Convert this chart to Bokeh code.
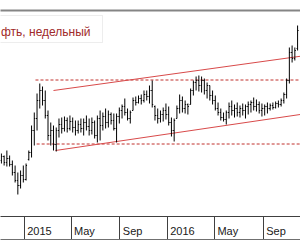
import datetime as dt
import pandas as pd
from bokeh.plotting import figure
from bokeh.models import (Range1d, FixedTicker, LinearAxis, BasicTickFormatter, BoxAnnotation,
                          Label, ColumnDataSource)
from bokeh.embed import file_html
from bokeh.resources import INLINE

# ---------------- data (weekly OHLC) ----------------
first_week = "2014-11-03"
high = [2470, 2450, 2500, 2450, 2400, 2350, 2280, 2300, 2350, 2370,
        2500, 2750, 2880, 3070, 3170, 3140, 3100, 2900, 2780, 2750,
        2730, 2820, 2830, 2840, 2830, 2850, 2830, 2800, 2800, 2820,
        2820, 2850, 2820, 2830, 2800, 2850, 2900, 2880, 2920, 2900,
        2880, 2870, 2870, 2930, 2960, 3020, 2920, 2900, 3030, 3040,
        3050, 3060, 3100, 3100, 3150, 3200, 2950, 2920, 2900, 2930,
        2970, 2940, 2830, 2820, 2950, 3060, 3040, 3000, 2970, 3120,
        3200, 3240, 3250, 3240, 3220, 3180, 3150, 3100, 3050, 2980,
        2920, 2880, 2900, 2980, 3000, 2960, 2980, 2950, 2970, 2960,
        2990, 3000, 3030, 3010, 2990, 2970, 2960, 2980, 2970, 2980,
        2990, 3000, 3020, 3080, 3220, 3530, 3550, 3530, 3750]
low = [2370, 2350, 2340, 2340, 2250, 2180, 2060, 2120, 2180, 2200,
       2400, 2430, 2550, 2700, 2920, 2950, 2820, 2600, 2550, 2500,
       2490, 2630, 2670, 2690, 2680, 2700, 2680, 2650, 2670, 2680,
       2650, 2700, 2650, 2660, 2620, 2580, 2600, 2700, 2720, 2730,
       2760, 2700, 2580, 2770, 2820, 2850, 2800, 2770, 2900, 2950,
       2970, 2960, 2980, 3000, 2970, 2930, 2800, 2770, 2780, 2790,
       2810, 2750, 2640, 2590, 2820, 2870, 2880, 2870, 2860, 2960,
       3050, 3100, 3090, 3080, 3060, 3020, 3000, 2960, 2900, 2850,
       2800, 2790, 2760, 2820, 2850, 2830, 2840, 2830, 2850, 2820,
       2860, 2880, 2900, 2890, 2870, 2840, 2850, 2870, 2900, 2910,
       2920, 2930, 2940, 2970, 3020, 3170, 3380, 3400, 3500]
open_ = [2400, 2440, 2380, 2420, 2360, 2280, 2200, 2150, 2250, 2210,
         2410, 2480, 2700, 2820, 3000, 3100, 3000, 2850, 2650, 2700,
         2560, 2700, 2760, 2720, 2800, 2720, 2790, 2730, 2700, 2760,
         2720, 2780, 2740, 2700, 2780, 2650, 2820, 2750, 2840, 2780,
         2860, 2800, 2720, 2840, 2900, 2940, 2880, 2820, 2900, 3000,
         2980, 3020, 3000, 3060, 3040, 3100, 2940, 2850, 2820, 2860,
         2900, 2860, 2780, 2700, 2820, 2920, 3000, 2920, 2960, 2960,
         3100, 3180, 3200, 3150, 3200, 3100, 3150, 3050, 3000, 2920,
         2880, 2830, 2810, 2880, 2940, 2900, 2920, 2880, 2920, 2900,
         2940, 2960, 2980, 2940, 2960, 2900, 2920, 2940, 2920, 2950,
         2930, 2970, 2960, 3000, 3060, 3200, 3480, 3420, 3520]
close = [2440, 2380, 2420, 2360, 2280, 2200, 2150, 2250, 2210, 2350,
         2480, 2700, 2820, 3000, 3100, 3000, 2850, 2650, 2700, 2560,
         2700, 2760, 2720, 2800, 2720, 2790, 2730, 2700, 2760, 2720,
         2780, 2740, 2700, 2780, 2650, 2820, 2750, 2840, 2780, 2860,
         2800, 2720, 2840, 2900, 2940, 2880, 2820, 2880, 3000, 2980,
         3020, 3000, 3060, 3040, 3100, 2960, 2850, 2820, 2860, 2900,
         2860, 2780, 2700, 2800, 2920, 3000, 2920, 2960, 2940, 3100,
         3180, 3200, 3150, 3200, 3100, 3150, 3050, 3000, 2920, 2880,
         2830, 2810, 2880, 2940, 2900, 2920, 2880, 2920, 2900, 2940,
         2960, 2980, 2940, 2960, 2900, 2920, 2940, 2920, 2950, 2930,
         2970, 2960, 3000, 3060, 3200, 3480, 3420, 3500, 3700]

tick_dates = ["2015-01-01", "2015-05-01", "2015-09-01", "2016-01-01", "2016-05-01", "2016-09-01"]
tick_labels = ["2015", "May", "Sep", "2016", "May", "Sep"]

resist_dates = ["2015-01-29", "2016-12-10"]
resist_price = [3205, 3205]
support_dates = ["2015-02-01", "2016-12-10"]
support_price = [2565, 2565]
chan_up_dates = ["2015-03-16", "2016-12-10"]
chan_up_price = [3100, 3445]
chan_dn_dates = ["2015-03-21", "2016-12-10"]
chan_dn_price = [2500, 2863]

caption = "фть, недельный"

# ---------------- layout helpers ----------------
EPOCH = dt.datetime(1970, 1, 1)
PX_PER_DAY = 0.3918
x_start = dt.datetime(2015, 1, 1) - dt.timedelta(days=24 / PX_PER_DAY)
x_end = x_start + dt.timedelta(days=300 / PX_PER_DAY)
PRICE_PER_PX = 10.0
FRAME_TOP, FRAME_BOT = 8, 216
Y_LO = 1840
Y_HI = Y_LO + (FRAME_BOT - FRAME_TOP) * PRICE_PER_PX


def ms(d):
    return (d - EPOCH).total_seconds() * 1000.0


def px_x(px):
    return ms(x_start + dt.timedelta(days=px / PX_PER_DAY))


def px_y(py):
    return Y_HI - (py - FRAME_TOP) * PRICE_PER_PX


dates = pd.date_range(first_week, periods=len(high), freq="7D")
tick_w = pd.Timedelta(days=2.5)
src = ColumnDataSource(dict(date=dates, dl=dates - tick_w, dr=dates + tick_w,
                            high=high, low=low, open=open_, close=close))

p = figure(width=300, height=250, x_axis_type="datetime", y_axis_location=None,
           x_range=Range1d(x_start, x_end), y_range=Range1d(Y_LO, Y_HI),
           output_backend="svg", toolbar_location=None,
           min_border_left=0, min_border_right=0, min_border_top=FRAME_TOP,
           min_border_bottom=250 - FRAME_BOT)
p.outline_line_color = None
p.grid.visible = False
p.background_fill_color = "white"
p.border_fill_color = "white"

# top border rule of the chart window
p.line(x=[px_x(-5), px_x(305)], y=[px_y(10), px_y(10)], line_color="#858585", line_width=2)

# channel / levels
p.line(x=pd.to_datetime(resist_dates), y=resist_price, line_dash="3 2", line_color="#c0302c", line_width=1)
p.line(x=pd.to_datetime(support_dates), y=support_price, line_dash="3 2", line_color="#c0302c", line_width=1)
p.line(x=pd.to_datetime(chan_up_dates), y=chan_up_price, line_color="#d84a4a", line_width=1)
p.line(x=pd.to_datetime(chan_dn_dates), y=chan_dn_price, line_color="#d84a4a", line_width=1)

# OHLC bars
p.segment(x0="date", y0="low", x1="date", y1="high", source=src, line_color="black", line_width=1)
p.segment(x0="dl", y0="open", x1="date", y1="open", source=src, line_color="black", line_width=1)
p.segment(x0="date", y0="close", x1="dr", y1="close", source=src, line_color="black", line_width=1)

# caption box
p.add_layout(BoxAnnotation(left=px_x(-10), right=px_x(102), top=px_y(15), bottom=px_y(42),
                           fill_color="white", fill_alpha=1, line_color="#c4c4c4", line_width=1))
p.add_layout(Label(x=px_x(0.5), y=px_y(31), text=caption, text_font="Liberation Sans",
                   text_font_size="12px", text_color="#a02a2a", text_baseline="alphabetic",
                   text_align="left"))

# bottom time axis: separators = minor ticks, labels at right of separators
sep_ms = [ms(pd.Timestamp(d).to_pydatetime()) for d in tick_dates]
lab_ms = []
for d, lab in zip(tick_dates, tick_labels):
    off = 38 if lab.isdigit() else 33
    lab_ms.append(ms(pd.Timestamp(d).to_pydatetime() + dt.timedelta(days=off)))
xa = p.xaxis[0]
xa.ticker = FixedTicker(ticks=lab_ms, minor_ticks=sep_ms)
xa.major_label_overrides = {v: t for v, t in zip(lab_ms, tick_labels)}
xa.axis_line_color = "#404040"
xa.major_tick_out = 0
xa.major_tick_in = 0
xa.minor_tick_out = 23
xa.minor_tick_in = 0
xa.minor_tick_line_color = "#404040"
xa.major_label_standoff = -15
xa.major_label_text_font = "Liberation Sans"
xa.major_label_text_font_size = "11px"
xa.major_label_text_color = "#202020"

# bottom edge of the date strip: a bare axis rule (one hidden tick inside the range)
rule = LinearAxis(ticker=FixedTicker(ticks=[lab_ms[0]]), formatter=BasicTickFormatter(),
                  axis_line_color="#707070", axis_line_width=1,
                  major_tick_out=1, major_tick_in=0, minor_tick_out=0, minor_tick_in=0,
                  major_tick_line_color=None, major_label_text_color=None,
                  major_label_text_font_size="1px", major_label_standoff=0)
p.add_layout(rule, "below")

open("out.html", "w").write(file_html(p, INLINE))
